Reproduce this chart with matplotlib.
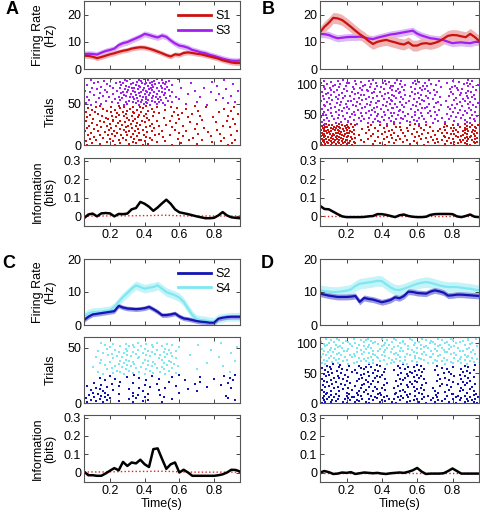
import matplotlib
matplotlib.use("Agg")
import matplotlib.pyplot as plt
from matplotlib.lines import Line2D

plt.rcParams['font.family'] = ['Liberation Sans', 'DejaVu Sans']

# time axis (s)
t = [0.05, 0.075, 0.1, 0.125, 0.15, 0.175, 0.2, 0.225, 0.25, 0.275, 0.3, 0.325,
     0.35, 0.375, 0.4, 0.425, 0.45, 0.475, 0.5, 0.525, 0.55, 0.575, 0.6, 0.625,
     0.65, 0.675, 0.7, 0.725, 0.75, 0.775, 0.8, 0.825, 0.85, 0.875, 0.9, 0.925, 0.95]

# firing rates (Hz)
a_s1 = [4.9, 4.8, 4.5, 4.0, 4.4, 4.9, 5.4, 5.8, 6.3, 6.7, 7.0, 7.5, 7.8, 8.0, 7.9, 7.5, 7.0, 6.4, 5.8,
        5.1, 4.6, 5.4, 5.2, 5.9, 6.1, 5.9, 5.6, 5.4, 5.0, 4.6, 4.2, 3.8, 3.2, 2.8, 2.4, 2.2, 2.2]
a_s3 = [5.5, 5.6, 5.5, 5.3, 6.0, 6.6, 7.0, 7.5, 8.8, 9.5, 9.9, 10.6, 11.3, 12.0, 12.9, 12.5, 12.0, 11.6, 12.3,
        11.8, 10.5, 9.4, 8.6, 8.3, 7.8, 7.0, 6.6, 6.1, 5.8, 5.2, 4.8, 4.3, 3.8, 3.4, 3.1, 3.0, 3.1]
b_s1 = [13.5, 15.5, 17.0, 18.8, 18.6, 18.0, 16.8, 15.5, 14.1, 12.8, 11.7, 10.3, 9.2, 10.0, 10.4, 10.7, 10.2, 9.8, 9.3,
        9.0, 9.8, 8.6, 8.6, 9.3, 9.5, 9.2, 9.6, 10.2, 11.2, 12.2, 12.5, 12.4, 12.0, 11.7, 12.9, 11.8, 10.4]
b_s3 = [12.9, 12.8, 12.5, 11.8, 11.3, 11.5, 11.7, 11.8, 11.8, 11.9, 11.6, 11.2, 11.0, 11.5, 11.9, 12.3, 12.7, 12.9, 13.2,
        13.5, 13.8, 14.1, 13.0, 12.3, 11.8, 11.3, 11.1, 10.8, 10.6, 10.0, 9.5, 9.7, 9.8, 9.6, 9.5, 9.9, 10.2]
c_s2 = [1.5, 2.5, 3.2, 3.4, 3.6, 3.8, 4.0, 4.2, 5.8, 5.3, 5.0, 4.9, 4.8, 4.9, 5.1, 5.5, 4.8, 4.0, 3.0,
        3.0, 3.2, 3.5, 2.6, 2.0, 1.8, 1.5, 1.2, 1.0, 0.9, 0.7, 0.7, 1.9, 2.2, 2.4, 2.5, 2.5, 2.5]
c_s4 = [2.5, 3.5, 3.9, 4.0, 4.1, 4.3, 4.5, 5.5, 7.0, 8.5, 9.7, 11.0, 12.0, 11.5, 11.0, 11.3, 11.5, 12.0, 11.0,
        10.0, 9.5, 9.0, 8.3, 7.0, 5.0, 3.0, 1.8, 1.5, 1.4, 1.1, 1.0, 1.9, 2.2, 2.4, 2.5, 2.5, 2.5]
d_s2 = [9.5, 9.2, 8.9, 8.7, 8.5, 8.5, 8.5, 8.6, 8.8, 7.0, 8.2, 7.9, 7.7, 7.3, 6.9, 7.2, 7.6, 8.4, 8.1,
        8.8, 10.1, 10.0, 9.7, 9.6, 9.5, 10.1, 10.5, 10.2, 9.8, 8.9, 9.0, 9.2, 9.2, 9.1, 9.0, 8.9, 8.8]
d_s4 = [10.5, 10.3, 10.1, 10.0, 10.0, 10.2, 10.4, 10.8, 11.8, 12.5, 12.7, 12.9, 13.1, 13.4, 13.3, 12.3, 11.4, 10.7, 10.6,
        11.0, 11.5, 12.0, 12.5, 12.8, 13.0, 12.8, 12.4, 12.0, 11.7, 11.5, 11.5, 11.5, 11.3, 11.1, 11.0, 10.7, 10.5]

# s.e.m. half widths
sem = {'a_s1': 0.9, 'a_s3': 1.1, 'b_s1': 2.0, 'b_s3': 1.3,
       'c_s2': 0.7, 'c_s4': 1.3, 'd_s2': 0.9, 'd_s4': 1.6}

# information (bits) and shuffled baseline
a_info = [-0.01, 0.01, 0.015, 0.0, 0.016, 0.018, 0.016, 0.0, 0.013, 0.012, 0.015, 0.038, 0.045, 0.078, 0.068, 0.052,
          0.03, 0.048, 0.07, 0.09, 0.068, 0.038, 0.022, 0.017, 0.012, 0.006, 0.0, -0.005, -0.01, -0.01, -0.008,
          0.005, 0.023, 0.005, -0.005, -0.008, -0.01]
b_info = [0.057, 0.04, 0.038, 0.025, 0.012, 0.0, -0.004, -0.004, -0.004, -0.004, -0.003, 0.0, 0.002, 0.012, 0.012,
          0.008, 0.002, -0.004, 0.006, 0.01, 0.002, -0.002, -0.004, -0.004, -0.002, 0.008, 0.012, 0.013, 0.013,
          0.013, 0.012, 0.0, -0.004, 0.002, 0.01, -0.002, -0.004]
c_info = [0.005, -0.015, -0.015, -0.018, -0.018, -0.005, 0.01, 0.024, 0.012, 0.058, 0.036, 0.055, 0.05, 0.07, 0.045,
          0.03, 0.128, 0.132, 0.075, 0.02, 0.045, 0.055, 0.0, 0.015, 0.0, -0.018, -0.018, -0.018, -0.018, -0.018,
          -0.018, -0.015, -0.01, 0.0, 0.015, 0.014, 0.005]
d_info = [0.0, 0.008, 0.002, -0.008, -0.006, 0.0, -0.002, 0.002, -0.008, -0.004, 0.0, -0.002, -0.004, -0.002, -0.006,
          -0.008, -0.004, -0.002, 0.0, -0.002, 0.004, 0.012, 0.025, 0.005, -0.008, -0.006, -0.006, -0.006, -0.004,
          0.008, 0.022, 0.008, -0.006, -0.006, -0.006, -0.006, -0.006]
a_base = [0.002, 0.002, 0.002, 0.002, 0.002, 0.002, 0.003, 0.003, 0.003, 0.003, 0.003, 0.003, 0.004, 0.004, 0.004,
          0.004, 0.005, 0.005, 0.006, 0.006, 0.005, 0.004, 0.003, 0.003, 0.002, 0.002, 0.002, 0.002, 0.002, 0.002,
          0.002, 0.002, 0.002, 0.002, 0.002, 0.002, 0.002]
b_base = [0.001, 0.001, 0.001, 0.001, 0.001, 0.001, 0.001, 0.001, 0.001, 0.001, 0.001, 0.001, 0.001, 0.001, 0.001,
          0.001, 0.001, 0.001, 0.001, 0.001, 0.001, 0.001, 0.001, 0.001, 0.001, 0.001, 0.001, 0.001, 0.001, 0.001,
          0.001, 0.001, 0.001, 0.001, 0.001, 0.001, 0.001]
c_base = [0.003, 0.003, 0.003, 0.003, 0.003, 0.003, 0.004, 0.004, 0.005, 0.005, 0.006, 0.006, 0.006, 0.006, 0.006,
          0.006, 0.007, 0.007, 0.007, 0.006, 0.006, 0.005, 0.004, 0.003, 0.002, 0.002, 0.002, 0.002, 0.002, 0.002,
          0.002, 0.002, 0.002, 0.002, 0.002, 0.002, 0.002]
d_base = [0.0, 0.0, 0.0, 0.0, 0.0, 0.0, 0.0, 0.0, 0.0, 0.0, 0.0, 0.0, 0.0, 0.0, 0.0,
          0.0, 0.0, 0.0, 0.0, 0.0, 0.0, 0.0, 0.0, 0.0, 0.0, 0.0, 0.0, 0.0, 0.0, 0.0,
          0.0, 0.0, 0.0, 0.0, 0.0, 0.0, 0.0]

# spike rasters: one string per trial, spike times in ms
a_s1_spk = [
    "70 230 390 560 880", "140 310 420 700", "95 260 350 610 905", "180 330 470 790",
    "60 215 400 520 840", "120 290 365 655", "250 380 445 730 920", "85 200 340 590",
    "160 275 430 680 860", "105 320 410 505", "230 355 620 780", "75 190 300 460 900",
    "145 265 395 545", "210 330 480 710 835", "90 240 370 600", "170 290 415 765",
    "55 225 345 500 930", "130 310 440 640", "195 280 390 575 815", "110 255 360 690",
    "65 205 325 455 745", "150 295 410 560 890", "235 350 480 620", "80 185 305 430 850",
    "125 270 375 525", "200 320 445 700 920", "95 245 355 580", "165 285 400 660 810",
    "60 215 335 470", "140 260 385 545 875", "220 310 425 730", "100 190 345 600 910",
    "175 300 415 510", "70 235 360 650 795", "155 280 395 560", "210 325 450 720 880",
    "85 250 370 590", "130 290 405 675 940", "240 340 485 615", "115 205 330 455 830",
    "60 275 380 570", "185 300 420 705 900", "95 230 355 520", "160 315 440 640 860",
    "75 260 390 585", "205 335 470 755", "120 280 375 550 915", "145 250 410 690",
]
a_s3_spk = [
    "90 280 370 430 520 760", "150 300 395 470 640", "60 245 350 415 505 880", "210 330 380 460 560",
    "120 290 405 480 700 920", "175 310 360 445 535", "80 260 385 420 495 810", "230 340 410 475 600",
    "135 270 355 440 525 850", "195 315 390 465 580", "65 250 330 405 490 720", "160 295 375 450 545 900",
    "105 280 350 425 510", "220 320 400 470 650 830", "140 265 365 430 520", "85 300 380 455 560 780",
    "185 275 345 415 500", "55 240 335 410 480 690 940", "170 305 390 445 540", "125 285 360 425 515 870",
    "215 325 395 470 610", "95 255 340 435 500 740", "150 310 375 450 530", "200 290 365 420 495 820",
    "70 265 350 440 555", "180 320 400 460 520 910", "110 275 385 430 505", "235 335 410 480 670",
    "130 260 355 445 525 790", "165 300 380 455 540", "90 285 370 420 500 860", "205 315 395 470 590",
]
b_s1_spk = [
    "60 110 170 230 420 640 810 900", "80 140 200 350 560 760 880", "55 95 160 250 470 700 830 930",
    "120 180 215 390 600 790 870", "70 130 190 300 520 720 850 920", "90 150 240 440 660 810 940",
    "65 115 175 220 360 580 770 880", "100 160 205 480 690 840 910", "75 135 195 280 540 740 860",
    "85 145 230 410 620 800 925", "60 125 180 320 500 710 890", "110 170 250 460 650 780 870 940",
    "70 140 200 380 590 830 900", "95 155 225 430 680 760 880", "55 120 185 340 530 750 850 930",
    "80 145 210 490 610 820 905", "65 130 175 270 450 700 860", "105 165 240 400 570 790 920",
    "75 125 190 350 630 810 880", "90 150 215 470 660 770 940", "60 140 200 310 520 740 870",
    "100 170 230 420 600 830 910", "70 115 185 380 550 720 860 930", "85 160 220 440 690 800 890",
    "55 135 205 330 510 760 870", "95 150 245 460 640 820 915", "75 125 180 290 580 730 880",
    "110 165 215 410 620 790 935", "65 140 195 360 540 810 870", "90 155 235 480 670 750 900",
    "80 130 210 320 500 840 925", "60 145 190 430 610 770 880", "100 175 250 390 560 800 910",
    "70 120 200 340 650 830 945", "85 160 225 470 590 760 870",
]
b_s3_spk = [
    "80 260 430 610 830", "140 320 500 690 900", "60 210 390 560 760", "170 350 470 650 880",
    "100 280 540 720 930", "210 380 450 600 810", "70 240 410 580 870", "130 300 520 700 920",
    "190 360 480 640 780", "90 270 440 610 850", "150 330 510 740 900", "55 220 400 570 820",
    "120 290 460 680 940", "180 370 530 630 790", "85 250 420 590 860", "160 340 490 710 910",
    "65 230 380 550 770", "200 310 470 660 880", "110 280 450 620 830", "140 360 520 700 925",
    "75 245 415 585 800", "175 325 495 675 870", "95 265 435 605 845", "155 345 505 725 905",
    "60 215 395 565 785", "185 355 465 645 895", "115 285 455 625 815", "135 305 525 695 935",
    "205 375 485 655 775", "80 255 425 595 855", "165 335 515 735 915", "70 235 405 575 795",
    "195 315 475 665 885", "105 275 445 615 825", "145 365 535 705 945", "90 260 430 600 840",
    "170 340 500 720 900", "55 225 385 555 765", "210 380 460 640 870", "120 290 450 630 810",
    "150 310 520 690 930", "75 240 410 580 860", "180 350 480 660 890", "100 270 440 610 820",
    "140 330 510 730 910", "65 220 400 560 780", "190 370 470 650 880", "110 280 460 620 840",
    "160 300 530 700 920", "85 250 420 590 800", "175 345 495 675 875", "95 265 435 605 850",
    "130 355 505 715 905", "60 230 390 570 790", "200 320 480 660 890", "115 285 455 625 830",
    "145 315 525 695 935", "80 245 415 585 855", "185 360 490 645 785", "105 275 445 615 825",
    "155 335 515 735 915", "70 235 395 565 795", "195 375 465 655 885", "125 295 450 635 815",
    "135 305 530 705 945", "90 255 425 595 865", "165 340 500 680 900", "55 215 405 575 770",
    "205 365 475 645 880", "110 280 440 610 835", "150 325 510 725 910", "75 250 420 590 800",
    "180 350 485 665 890",
]
c_s2_spk = [
    "70 160 330 500", "120 250 390", "90 180 420 920", "140 310 560", "60 200 350 880",
    "110 170 400 510", "150 330 870", "80 190 360 490", "130 250 420", "100 170 330 600",
    "160 390 700", "90 220 480", "140 310 650", "120 370 520 900", "180 430 760",
    "70 250 580", "150 400 840", "210 470 690", "110 330 880", "260 540 720",
    "170 410 630 910", "230 480 800", "140 370 890", "300 560 720", "200 440 860", "340 600 920",
]
c_s4_spk = [
    "160 280 400 520", "220 330 450 580", "130 260 370 490 890", "240 310 430 540",
    "180 290 410 510 700", "210 350 470 560", "100 270 380 500", "230 320 440 590 850",
    "170 300 420 530", "250 340 460 570", "140 280 390 510 760", "200 330 450 550",
    "260 310 420 540 920", "150 290 400 500", "220 360 480 580", "120 270 370 520 830",
    "240 320 430 560", "190 300 410 490 660", "210 350 460 530", "160 280 390 550 900",
    "250 330 440 510", "130 300 420 580", "230 360 470 540 780", "180 290 400 520",
    "200 340 450 600 930", "260 310 380 500", "170 330 440 560 710", "220 290 410 530",
    "150 360 470 840",
]
d_s2_spk = [
    "60 200 330 480 650 820 940", "110 250 390 540 700 870", "80 180 310 460 610 780 920",
    "140 270 420 560 740 890", "70 220 350 500 680 840", "120 260 400 580 720 910",
    "90 190 330 470 630 800 930", "150 290 440 600 760 880", "65 210 370 520 690 850",
    "130 240 410 550 710 900", "100 230 360 490 640 820 945", "160 280 430 590 770 870",
    "75 200 340 510 660 830", "115 265 395 545 705 920", "85 215 380 475 625 795 935",
    "140 320 560 800", "90 260 480 720", "200 390 610 880", "70 300 530 760", "160 350 590 840",
    "110 270 500 700 920", "230 420 640 860", "60 310 520 780", "180 370 600 900", "130 280 470 690",
    "210 400 620 850", "80 330 550 790", "150 360 580 910", "100 250 490 730", "190 410 630 870",
    "65 290 540 770", "170 340 570 830", "120 300 510 740 930", "220 430 650 880", "90 320 560 800",
    "140 380 600 860", "75 260 480 710", "200 350 590 900", "110 310 520 780", "180 420 640 850",
    "60 270 500 730", "160 360 610 890", "130 290 530 760", "210 390 580 920", "85 330 550 810",
    "150 370 620 870", "100 280 490 720", "190 400 600 840", "70 300 540 790", "170 350 570 900",
    "120 260 510 750", "230 410 630 860", "95 320 560 780", "145 380 590 880", "80 250 470 700",
    "200 360 610 920", "115 300 530 770", "175 420 640 850", "60 280 500 740", "155 340 580 890",
    "105 310 550 800", "215 390 620 870", "90 270 490 710", "165 370 600 930", "125 330 520 760",
]
d_s4_spk = [
    "80 210 430 540 760 880", "150 330 450 690 800", "60 240 350 520 660 850", "120 260 470 600 790 920",
    "180 310 500 710 830", "90 280 390 570 740 900", "140 350 460 640 770", "70 200 410 530 700 870",
    "160 300 480 620 840 940", "100 270 380 590 750", "130 320 440 610 810 910", "55 230 370 500 680 850",
    "190 340 530 670 880", "110 250 420 590 720 890", "170 360 490 650 820", "85 220 400 560 730 870",
    "145 290 470 630 790", "65 240 350 540 690 925", "155 330 480 600 810", "95 260 410 580 760 905",
    "125 300 450 640 770", "75 200 380 520 710 860", "185 350 500 680 840", "105 280 420 570 750 915",
    "135 310 460 620 780", "60 210 390 550 700 880", "175 340 510 660 830", "115 260 430 600 740 895",
    "150 320 470 640 790", "80 230 400 550 720 940", "165 300 490 650 810", "90 270 410 580 730 870",
    "140 330 440 620 780", "70 220 380 530 700 900", "180 350 500 670 820", "100 250 420 590 760 910",
    "130 300 460 610 770", "55 210 360 520 690 845", "195 340 520 680 860", "110 280 430 570 740 890",
    "160 310 480 650 800", "85 240 400 560 720 885", "145 320 470 630 790 935",
]

RED, PURPLE = '#cc1111', '#a020f0'
BLUE, CYAN = '#1414b4', '#7ee8f2'
FILLS = {RED: '#f0b4b4', PURPLE: '#dcb8f6', BLUE: '#9a9ae0', CYAN: '#c4f4f8'}

fig = plt.figure(figsize=(4.8, 5.16), dpi=100)

W, H = 480.0, 516.0


def mk_ax(x0, x1, y0, y1):
    return fig.add_axes([x0 / W, 1 - y1 / H, (x1 - x0) / W, (y1 - y0) / H])


def style(ax, bottom=False):
    ax.set_xlim(0.05, 0.95)
    ax.set_xticks([0.2, 0.4, 0.6, 0.8])
    ax.tick_params(direction='in', length=3, width=0.7, top=True, right=True,
                   labelsize=9, pad=2, color='#444444')
    for s in ax.spines.values():
        s.set_color('#555555')
        s.set_linewidth(0.8)
    if bottom:
        ax.set_xticklabels(['0.2', '0.4', '0.6', '0.8'])
    else:
        ax.set_xticklabels([])


def fr(ax, y1, y2, k1, k2, c1, c2, ytop):
    # second condition underneath, first on top
    for y, k, c in [(y2, k2, c2), (y1, k1, c1)]:
        lo = [v - sem[k] for v in y]
        hi = [v + sem[k] for v in y]
        ax.fill_between(t, lo, hi, color=FILLS[c], lw=0)
    for y, c in [(y2, c2), (y1, c1)]:
        ax.plot(t, y, color=c, lw=1.6)
    ax.set_ylim(0, ytop)
    ax.set_yticks([0, 10, 20])
    style(ax)


def raster(ax, rows1, rows2, c1, c2, ytop, yt):
    n1 = len(rows1)
    for start, rows, c in [(1, rows1, c1), (n1 + 1, rows2, c2)]:
        for i, r in enumerate(rows):
            times = [int(v) / 1000 for v in r.split()]
            ax.plot(times, [start + i - 0.5] * len(times), 's', color=c, ms=1.9, mew=0)
    ax.set_ylim(0, ytop)
    ax.set_yticks(yt)
    style(ax)


def info(ax, y, base, bottom_label):
    ax.plot(t, base, ':', color='#dd2222', lw=1.0)
    ax.plot(t, y, color='black', lw=1.8)
    ax.set_ylim(-0.052, 0.315)
    ax.set_yticks([0, 0.1, 0.2, 0.3])
    ax.set_yticklabels(['0', '0.1', '0.2', '0.3'])
    style(ax, bottom=True)
    if bottom_label:
        ax.set_xlabel('Time(s)', fontsize=9, labelpad=1)


cols = {'L': (84, 240), 'R': (320, 479)}
top_rows = [(1, 69), (78, 145), (158, 226)]
bot_rows = [(259, 325), (337, 403), (415, 482)]

panels = [
    ('L', top_rows, a_s1, a_s3, 'a_s1', 'a_s3', RED, PURPLE, 25, a_s1_spk, a_s3_spk, 81, [0, 50], a_info, a_base, False),
    ('R', top_rows, b_s1, b_s3, 'b_s1', 'b_s3', RED, PURPLE, 25, b_s1_spk, b_s3_spk, 111, [0, 50, 100], b_info, b_base, False),
    ('L', bot_rows, c_s2, c_s4, 'c_s2', 'c_s4', BLUE, CYAN, 20, c_s2_spk, c_s4_spk, 60, [0, 50], c_info, c_base, True),
    ('R', bot_rows, d_s2, d_s4, 'd_s2', 'd_s4', BLUE, CYAN, 20, d_s2_spk, d_s4_spk, 110, [0, 50, 100], d_info, d_base, True),
]

axes_list = []
for col, rows, y1, y2, k1, k2, c1, c2, ftop, sp1, sp2, rtop, rt, iy, ib, xl in panels:
    x0, x1 = cols[col]
    ax1 = mk_ax(x0, x1, *rows[0])
    ax2 = mk_ax(x0, x1, *rows[1])
    ax3 = mk_ax(x0, x1, *rows[2])
    fr(ax1, y1, y2, k1, k2, c1, c2, ftop)
    raster(ax2, sp1, sp2, c1, c2, rtop, rt)
    info(ax3, iy, ib, xl)
    if col == 'L':
        ax1.set_ylabel('Firing Rate\n(Hz)', fontsize=9, linespacing=1.1)
        ax2.set_ylabel('Trials', fontsize=9)
        ax3.set_ylabel('Information\n(bits)', fontsize=9, linespacing=1.1)
        for a in (ax1, ax2, ax3):
            a.yaxis.set_label_coords(-0.175, 0.5)
    axes_list.append((ax1, ax2, ax3))

# legends
for (ax1, _, _), labels, cs in [(axes_list[0], ['S1', 'S3'], [RED, PURPLE]),
                                (axes_list[2], ['S2', 'S4'], [BLUE, CYAN])]:
    handles = [Line2D([], [], color=c, lw=2) for c in cs]
    ax1.legend(handles, labels, loc='upper right', bbox_to_anchor=(0.95, 0.88), frameon=False,
               fontsize=9, handlelength=2.6, handletextpad=0.4, labelspacing=0.2, borderaxespad=0,
               borderpad=0.1)

for lab, x, y in [('A', 12, 9), ('B', 268, 9), ('C', 9, 264), ('D', 267, 264)]:
    fig.text(x / W, 1 - y / H, lab, fontsize=13, fontweight='bold', ha='center', va='center')

fig.savefig('out.png', dpi=100)
